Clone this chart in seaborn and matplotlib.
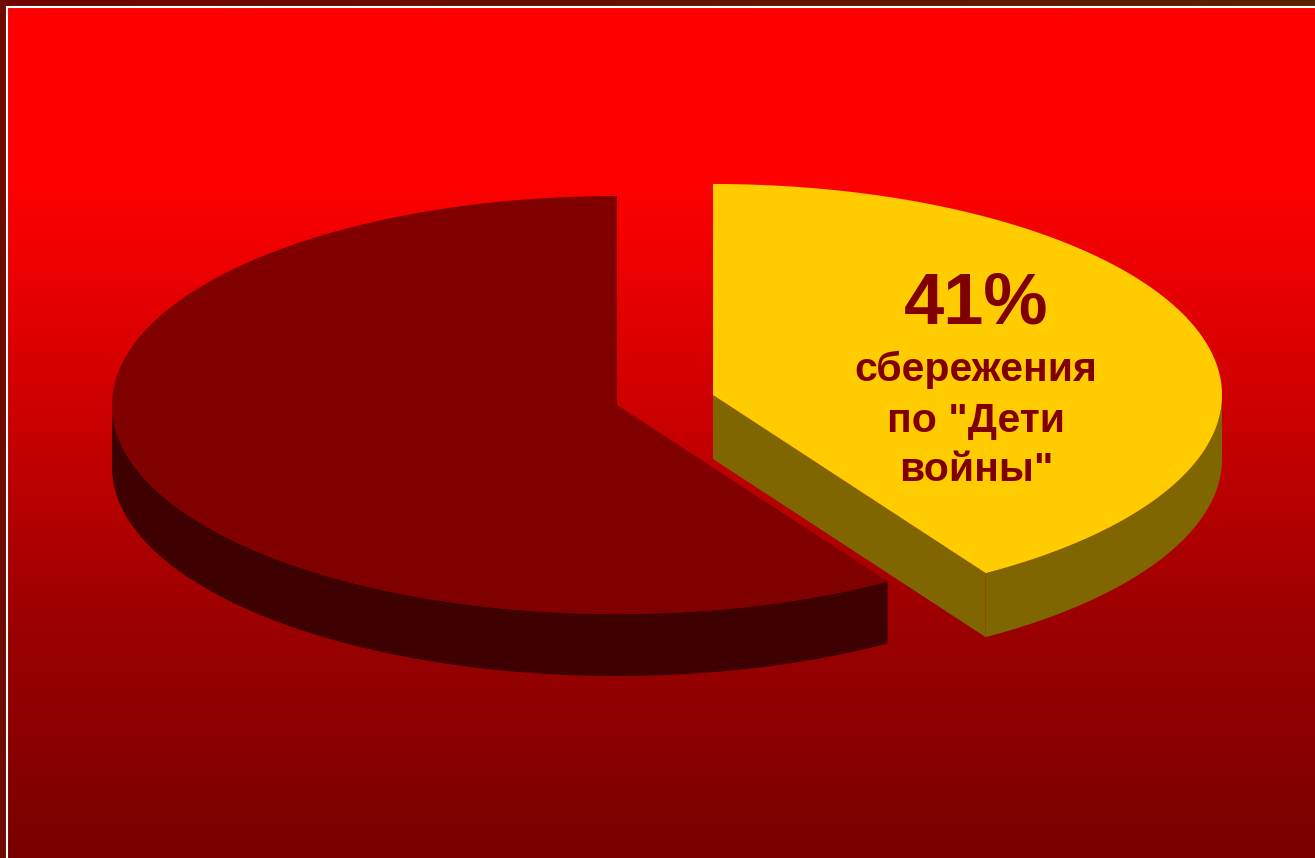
import numpy as np
import matplotlib.pyplot as plt
from matplotlib.patches import Polygon, Rectangle
import seaborn as sns

# данные: доли вкладов (по часовой стрелке от 12 часов)
categories = ['сбережения по "Дети войны"', 'прочие сбережения']
shares = [41, 59]
label_pct = '41%'
label_lines = ['сбережения', 'по "Дети', 'войны"']

top_colors = ['#ffcc00', '#800000']
side_colors = ['#806600', '#3e0000']
text_color = '#800000'

sns.set_theme(style='white')
plt.rcParams['font.family'] = ['Liberation Sans', 'DejaVu Sans']

W, H = 1315, 858
fig = plt.figure(figsize=(W / 100, H / 100), dpi=100)
fig.patch.set_facecolor('#b80000')
ax = fig.add_axes([0, 0, 1, 1])
ax.axis('off')

# фон: вертикальный градиент от красного к тёмно-красному
ys = np.arange(H + 10)
red = np.interp(ys, [7, 170, 300, 450, 600, 858], [255, 255, 228, 194, 160, 120])
grad = np.zeros((H + 10, 1, 3))
grad[:, 0, 0] = red / 255
ax.imshow(grad, extent=(8, W + 10, H + 10, 7), aspect='auto', zorder=0,
          interpolation='nearest', clip_on=False)

# рамка: верхняя полоса с градиентом и левая полоса
top = np.zeros((1, W + 10, 3))
top[0, :, 0] = np.linspace(0x70, 0x5a, W + 10) / 255
top[0, :, 1] = np.linspace(0x04, 0x22, W + 10) / 255
ax.imshow(top, extent=(-2, W + 10, 6.5, -2), aspect='auto', zorder=0,
          interpolation='nearest', clip_on=False)
ax.add_patch(Rectangle((-2, 0), 9.5, H + 10, fc='#6e0c00', ec='none', zorder=0.5, clip_on=False))
ax.set_xlim(0, W)
ax.set_ylim(H, 0)
ax.plot([7.5, 7.5], [6.5, H + 5], color='white', lw=1.5, zorder=1, clip_on=False)
ax.plot([7.5, W + 5], [6.5, 6.5], color='white', lw=1.5, zorder=1, clip_on=False)

# геометрия псевдо-3D круговой диаграммы
centers = [(713, 395), (617, 405)]
radii = [(509, 211), (505, 209)]
depths = [64, 62]


def rim(c, r, t):
    return np.column_stack([c[0] + r[0] * np.cos(t), c[1] - r[1] * np.sin(t)])


start = np.pi / 2
fracs = np.array(shares) / sum(shares)
order = [1, 0]  # задний (тёмный) сектор рисуем первым
bounds = []
for f in fracs:
    bounds.append((start, start - 2 * np.pi * f))
    start -= 2 * np.pi * f

for i in order:
    t0, t1 = bounds[i]
    c, r, d = centers[i], radii[i], depths[i]
    t = np.linspace(t0, t1, 400)
    # торцевые грани, повёрнутые к зрителю
    for tt, visible in [(t1, np.cos(t1) > 1e-6), (t0, np.cos(t0) < -1e-6)]:
        if visible:
            p = rim(c, r, np.array([tt]))[0]
            face = [c, p, (p[0], p[1] + d), (c[0], c[1] + d)]
            ax.add_patch(Polygon(face, closed=True, fc=side_colors[i], ec='none', zorder=2))
    # видимая боковая поверхность
    vis = np.sin(t) < 0
    if vis.any():
        up = rim(c, r, t[vis])
        low = up.copy()
        low[:, 1] += d
        ax.add_patch(Polygon(np.vstack([up, low[::-1]]), closed=True,
                             fc=side_colors[i], ec='none', zorder=2))
    # верхняя грань
    pts = np.vstack([[c], rim(c, r, t)])
    ax.add_patch(Polygon(pts, closed=True, fc=top_colors[i], ec='none', zorder=3))

# подпись жёлтого сектора
tx = 976
ax.text(tx, 323, label_pct, ha='center', va='baseline', fontsize=52,
        fontweight='bold', color=text_color, zorder=5)
for yb, line in zip([381, 432, 481], label_lines):
    ax.text(tx, yb, line, ha='center', va='baseline', fontsize=29.5,
            fontweight='bold', color=text_color, zorder=5)

plt.savefig('out.png', dpi=100)
